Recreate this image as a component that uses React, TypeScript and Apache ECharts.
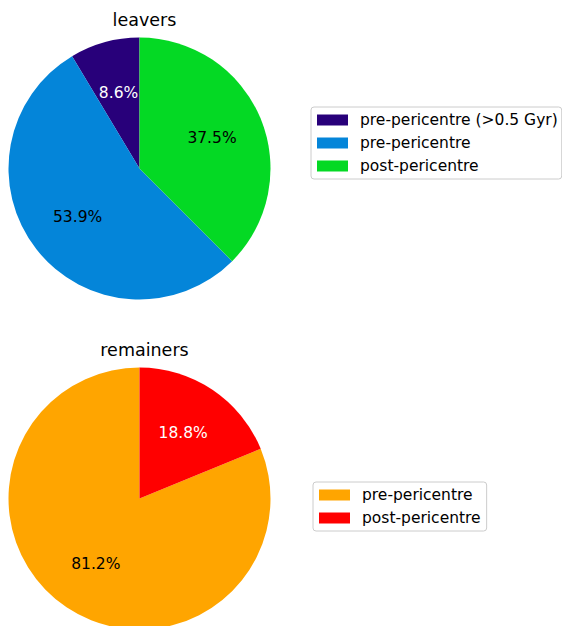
import React, { useEffect, useRef } from "react";
import * as echarts from "echarts";

const leaversNames = ["pre-pericentre (>0.5 Gyr)", "pre-pericentre", "post-pericentre"];
const leaversValues = [8.6, 53.9, 37.5];
const leaversColors = ["#28007a", "#0485d9", "#04d924"];
const leaversLabelColors = ["#ffffff", "#000000", "#000000"];

const remainersNames = ["pre-pericentre", "post-pericentre"];
const remainersValues = [81.2, 18.8];
const remainersColors = ["#ffa500", "#ff0000"];
const remainersLabelColors = ["#000000", "#ffffff"];

const FONT = "DejaVu Sans";
const R = 131;

function pieData(names: string[], values: number[], colors: string[], labelColors: string[]) {
  return names.map((n, i) => ({
    name: n,
    value: values[i],
    itemStyle: { color: colors[i] },
    label: { color: labelColors[i] },
  }));
}

function piePair(center: [number, number], names: string[], values: number[], colors: string[], labelColors: string[]) {
  const data = pieData(names, values, colors, labelColors);
  return [
    {
      type: "pie",
      center,
      radius: [0, R],
      startAngle: 90,
      clockwise: false,
      avoidLabelOverlap: false,
      label: { show: false },
      labelLine: { show: false },
      emphasis: { disabled: true },
      silent: true,
      data,
    },
    {
      type: "pie",
      center,
      radius: [20, R],
      startAngle: 90,
      clockwise: false,
      avoidLabelOverlap: false,
      itemStyle: { color: "rgba(0,0,0,0)" },
      label: {
        show: true,
        position: "inside",
        fontFamily: FONT,
        fontSize: 15.5,
        formatter: (p: any) => p.value.toFixed(1) + "%",
      },
      labelLine: { show: false },
      emphasis: { disabled: true },
      silent: true,
      data: data.map((d) => ({ ...d, itemStyle: { color: "rgba(0,0,0,0)" } })),
    },
  ];
}

function legendCfg(left: number, top: number, names: string[], colors: string[], padRight: number) {
  return {
    orient: "vertical",
    left,
    top,
    icon: "rect",
    itemWidth: 31,
    itemHeight: 11,
    itemGap: 7,
    padding: [5, padRight, 5, 6],
    borderColor: "#cccccc",
    borderWidth: 1,
    borderRadius: 3,
    backgroundColor: "#ffffff",
    selectedMode: false,
    textStyle: { fontFamily: FONT, fontSize: 15.5, color: "#000000", lineHeight: 15, padding: [0, 0, 0, 7] },
    data: names.map((n, i) => ({ name: n, itemStyle: { color: colors[i] } })),
  };
}

export default function App() {
  const ref = useRef<HTMLDivElement>(null);
  useEffect(() => {
    document.body.style.margin = "0";
    const chart = echarts.init(ref.current!, null, { renderer: "svg" });
    chart.setOption({
      animation: false,
      backgroundColor: "#ffffff",
      title: [
        {
          text: "leavers",
          left: 139.5,
          top: 6,
          textAlign: "center",
          textStyle: { fontFamily: FONT, fontSize: 17.5, fontWeight: "normal", color: "#000000" },
        },
        {
          text: "remainers",
          left: 139.5,
          top: 336,
          textAlign: "center",
          textStyle: { fontFamily: FONT, fontSize: 17.5, fontWeight: "normal", color: "#000000" },
        },
      ],
      legend: [
        legendCfg(311, 107, leaversNames, leaversColors, 4),
        legendCfg(313, 482, remainersNames, remainersColors, 6),
      ],
      series: [
        ...piePair([139.5, 168.5], leaversNames, leaversValues, leaversColors, leaversLabelColors),
        ...piePair([139.5, 498.5], remainersNames, remainersValues, remainersColors, remainersLabelColors),
      ],
    });
    return () => chart.dispose();
  }, []);
  return <div ref={ref} style={{ position: "absolute", left: 0, top: 0, width: 562, height: 626 }} />;
}
